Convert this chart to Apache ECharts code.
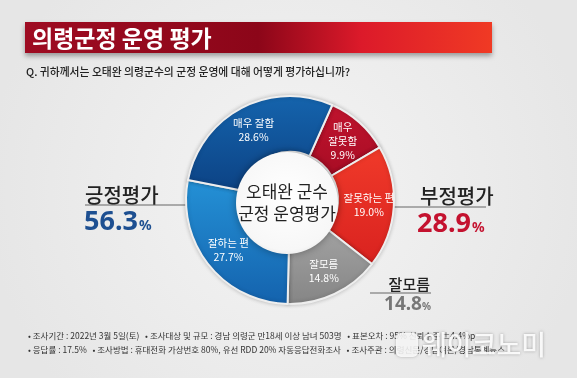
<!DOCTYPE html>
<html>
<head>
<meta charset="utf-8">
<script src="https://cdn.jsdelivr.net/npm/echarts@6/dist/echarts.min.js"></script>
<style>
  html, body { margin: 0; padding: 0; background: #efefef; }
  #chart { width: 577px; height: 378px; }
</style>
</head>
<body>
<div id="chart"></div>
<script>
// 응답 항목 (12시 방향부터 시계방향)
const categories = ['매우 잘못함', '잘못하는 편', '잘모름', '잘하는 편', '매우 잘함'];
const values = [9.9, 19.0, 14.8, 27.7, 28.6];

const titleText = '의령군정 운영 평가';
const questionText = 'Q. 귀하께서는 오태완 의령군수의 군정 운영에 대해 어떻게 평가하십니까?';
const centerLines = ['오태완 군수', '군정 운영평가'];
const footerLines = [
  '• 조사기간 : 2022년 3월 5일(토)   • 조사대상 및 규모 : 경남 의령군 만18세 이상 남녀 503명   • 표본오차 : 95% 신뢰수준 ±4.4%p',
  '• 응답률 : 17.5%   • 조사방법 : 휴대전화 가상번호 80%, 유선 RDD 20% 자동응답전화조사   • 조사주관 : 의령신문/경남여론/경남통계뉴스',
];

// 긍정 / 부정 / 잘모름 합계
const positive = (values[3] + values[4]).toFixed(1);
const negative = (values[0] + values[1]).toFixed(1);
const unknown = values[2].toFixed(1);

const KR = "'Noto Sans CJK KR', 'Noto Sans', sans-serif";

const lin = (a, b) => new echarts.graphic.LinearGradient(0, 0, 0, 1, [
  { offset: 0, color: a },
  { offset: 1, color: b },
]);

const sliceColors = [
  lin('#c0142e', '#a80c24'),
  lin('#f03a2a', '#d9221f'),
  lin('#a2a2a2', '#858585'),
  lin('#2491d6', '#1462ad'),
  lin('#1564ad', '#0c4284'),
];

const chart = echarts.init(document.getElementById('chart'));

const option = {
  backgroundColor: new echarts.graphic.RadialGradient(0.5, 0.5, 0.8, [
    { offset: 0, color: '#f4f4f4' },
    { offset: 1, color: '#e6e6e6' },
  ]),
  animation: false,
  graphic: [
    // 제목 배너
    {
      type: 'rect',
      shape: { x: 25, y: 22, width: 467, height: 31 },
      style: {
        fill: new echarts.graphic.LinearGradient(0, 0, 1, 0, [
          { offset: 0, color: '#9e0c22' },
          { offset: 0.5, color: '#8c0619' },
          { offset: 0.72, color: '#dc1a2a' },
          { offset: 1, color: '#f03a24' },
        ]),
        shadowBlur: 5,
        shadowOffsetY: 3,
        shadowColor: 'rgba(0,0,0,0.35)',
      },
    },
    {
      type: 'text',
      style: {
        x: 32, y: 38, text: titleText,
        fill: '#fff', font: `bold 23px ${KR}`,
        textVerticalAlign: 'middle',
      },
    },
    {
      type: 'text',
      style: {
        x: 26, y: 72, text: questionText,
        fill: '#222', font: `500 10.8px ${KR}`,
        textVerticalAlign: 'middle',
      },
    },
    // 긍정평가
    {
      type: 'line',
      shape: { x1: 85, y1: 205, x2: 192, y2: 205 },
      style: { stroke: '#666', lineWidth: 1 },
    },
    {
      type: 'text',
      style: {
        x: 85, y: 195, text: '긍정평가',
        fill: '#222', font: `500 20px ${KR}`,
        textVerticalAlign: 'middle',
      },
    },
    {
      type: 'text',
      style: {
        x: 84, y: 222, text: `{n|${positive}}{p|%}`,
        textVerticalAlign: 'middle',
        rich: {
          n: { fill: '#1d4f91', font: "bold 27px 'Noto Sans', sans-serif" },
          p: { fill: '#1d4f91', font: "bold 14px 'Noto Sans', sans-serif", padding: [8, 0, 0, 1] },
        },
      },
    },
    // 부정평가
    {
      type: 'line',
      shape: { x1: 388, y1: 207, x2: 486, y2: 207 },
      style: { stroke: '#666', lineWidth: 1 },
    },
    {
      type: 'text',
      style: {
        x: 420, y: 196, text: '부정평가',
        fill: '#222', font: `500 20px ${KR}`,
        textVerticalAlign: 'middle',
      },
    },
    {
      type: 'text',
      style: {
        x: 417, y: 224, text: `{n|${negative}}{p|%}`,
        textVerticalAlign: 'middle',
        rich: {
          n: { fill: '#c4122f', font: "bold 27px 'Noto Sans', sans-serif" },
          p: { fill: '#c4122f', font: "bold 14px 'Noto Sans', sans-serif", padding: [8, 0, 0, 1] },
        },
      },
    },
    // 잘모름
    {
      type: 'line',
      shape: { x1: 370, y1: 293, x2: 431, y2: 293 },
      style: { stroke: '#666', lineWidth: 1 },
    },
    {
      type: 'text',
      style: {
        x: 430, y: 284, text: '잘모름',
        fill: '#222', font: `500 15px ${KR}`,
        textAlign: 'right', textVerticalAlign: 'middle',
      },
    },
    {
      type: 'text',
      style: {
        x: 431, y: 305, text: `{n|${unknown}}{p|%}`,
        textAlign: 'right', textVerticalAlign: 'middle',
        rich: {
          n: { fill: '#777', font: "bold 19px 'Noto Sans', sans-serif" },
          p: { fill: '#777', font: "bold 10px 'Noto Sans', sans-serif", padding: [5, 0, 0, 0] },
        },
      },
    },
    // 하단 조사개요
    {
      type: 'text',
      style: {
        x: 28, y: 336, text: footerLines[0],
        fill: '#333', font: `8.5px ${KR}`,
        textVerticalAlign: 'middle',
      },
    },
    {
      type: 'text',
      style: {
        x: 28, y: 350, text: footerLines[1],
        fill: '#333', font: `8.5px ${KR}`,
        textVerticalAlign: 'middle',
      },
    },
    // 워터마크
    {
      type: 'rect',
      z: 100,
      shape: { x: 396, y: 333, width: 22, height: 24, r: 5 },
      style: {
        fill: 'rgba(255,255,255,0.85)',
        shadowBlur: 3,
        shadowColor: 'rgba(0,0,0,0.3)',
      },
    },
    {
      type: 'text',
      z: 100,
      style: {
        x: 422, y: 345, text: '웨이코노미',
        fill: 'rgba(255,255,255,0.9)', font: `500 27px ${KR}`,
        textVerticalAlign: 'middle',
        textShadowBlur: 3,
        textShadowColor: 'rgba(0,0,0,0.35)',
      },
    },
  ],
  series: [
    {
      type: 'pie',
      center: [290, 200],
      radius: [48, 104],
      startAngle: 66,
      clockwise: true,
      silent: true,
      itemStyle: {
        borderColor: '#eeeeee',
        borderWidth: 2,
        shadowBlur: 4,
        shadowColor: 'rgba(0,0,0,0.2)',
      },
      label: {
        show: true,
        position: 'inside',
        color: '#fff',
        fontSize: 10.5,
        lineHeight: 14,
        fontFamily: KR,
        formatter: (p) => {
          const name = p.value < 12 ? p.name.replace(' ', '\n') : p.name;
          return `${name}\n${p.value.toFixed(1)}%`;
        },
      },
      labelLine: { show: false },
      data: categories.map((name, i) => ({
        name,
        value: values[i],
        itemStyle: { color: sliceColors[i] },
      })),
    },
    {
      type: 'pie',
      center: [287, 203],
      radius: [0, 51],
      silent: true,
      itemStyle: {
        color: new echarts.graphic.RadialGradient(0.5, 0.45, 0.6, [
          { offset: 0, color: '#ffffff' },
          { offset: 0.85, color: '#f7f7f7' },
          { offset: 1, color: '#e6e6e6' },
        ]),
        shadowBlur: 8,
        shadowColor: 'rgba(0,0,0,0.35)',
      },
      label: {
        show: true,
        position: 'center',
        formatter: centerLines.join('\n'),
        color: '#222',
        fontSize: 17,
        lineHeight: 22,
        fontFamily: KR,
      },
      labelLine: { show: false },
      data: [{ value: 1, name: 'center' }],
    },
  ],
};

chart.setOption(option);
</script>
</body>
</html>
